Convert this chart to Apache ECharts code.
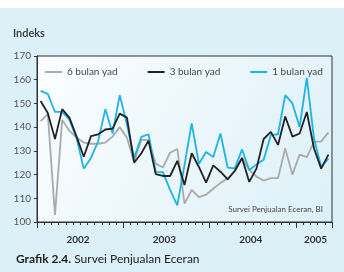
<!DOCTYPE html>
<html>
<head>
<meta charset="utf-8">
<script src="https://cdn.jsdelivr.net/npm/echarts@6/dist/echarts.min.js"></script>
<style>
html,body{margin:0;padding:0;background:#fff;}
#chart{width:344px;height:272px;}
</style>
</head>
<body>
<div id="chart"></div>
<script>
// bulan Jan 2002 - Mei 2005
var months = [];
for (var y = 2002; y <= 2005; y++) {
    for (var m = 1; m <= 12; m++) {
        if (y == 2005 && m > 5) break;
        months.push(y + '-' + m);
    }
}
var yearLabelIdx = {5: '2002', 17: '2003', 29: '2004', 38: '2005'};
var yTicks = [100, 110, 120, 130, 140, 150, 160, 170];

var enam_bulan = [142.5, 145.5, 103, 143, 138.5, 135.5, 133.5, 133, 133, 133.5,
    136, 140, 135.5, 125.3, 134.7, 134.5, 124.6, 123, 129.2, 130.8,
    107.8, 113.5, 110.5, 111.5, 114, 116.5, 118.4, 121.5, 127, 122,
    119.2, 117.4, 118.5, 118.5, 131, 120, 128.4, 127.4, 133.8, 134, 137.7];
var tiga_bulan = [151, 146, 135, 147.6, 144, 136, 127.5, 136.2, 137, 139,
    139.4, 145.7, 144, 125, 129, 134.3, 120.2, 119.4, 119.4, 125.8,
    115.6, 129, 123.2, 116.6, 123.9, 121.2, 118, 121.6, 127, 116.9,
    122.5, 135, 138, 132.5, 144.5, 136, 137.3, 146.4, 131, 122.5, 128.4];
var satu_bulan = [155.3, 154, 146.4, 146.4, 143.2, 135.3, 122.5, 127, 134, 147.6,
    137.3, 153.5, 141.2, 127, 135.9, 137, 121.1, 121, 113.5, 107,
    124, 141.6, 124.6, 129.5, 127.4, 137.3, 122.9, 122.6, 130.6, 121.9,
    124.3, 126.3, 136.6, 137, 153.5, 150, 140.1, 160.8, 135.2, 123.2, 126.7];

var chartDom = document.getElementById('chart');
var myChart = echarts.init(chartDom);
var option;
var font = 'Lato';

option = {
    backgroundColor: '#dcf0f7',
    animation: false,
    textStyle: {fontFamily: font},
    graphic: [
        {type: 'rect', left: 0, top: 0, shape: {width: 344, height: 8}, style: {fill: '#ffffff'}},
        {type: 'text', left: 13, top: 28, style: {text: 'Indeks', fontSize: 11, fontWeight: 600, fill: '#333', fontFamily: font}},
        {type: 'text', right: 21, top: 205, style: {text: 'Survei Penjualan Eceran, BI', fontSize: 8, fill: '#444', fontFamily: font}},
        {type: 'text', left: 16, top: 253, style: {
            rich: {
                b: {fontSize: 12, fontWeight: 'bold', fill: '#222', fontFamily: font},
                n: {fontSize: 12, fill: '#222', fontFamily: font}
            },
            text: '{b|Grafik 2.4.}{n| Survei Penjualan Eceran}'
        }}
    ],
    grid: {
        left: 37, right: 12, top: 56, bottom: 50,
        show: true,
        borderColor: '#333',
        borderWidth: 1,
        backgroundColor: {
            type: 'linear', x: 0, y: 0, x2: 1, y2: 1,
            colorStops: [{offset: 0, color: '#fbfeff'}, {offset: 1, color: '#dcf0f8'}]
        }
    },
    legend: {
        data: ['6 bulan yad', '3 bulan yad', '1 bulan yad'],
        left: 40, top: 62,
        icon: 'rect',
        itemGap: 30, itemWidth: 17, itemHeight: 2,
        textStyle: {fontSize: 10, color: '#444', fontFamily: font}
    },
    xAxis: [
        {
            type: 'category',
            data: months,
            boundaryGap: true,
            axisLine: {lineStyle: {color: '#333', width: 1}},
            axisTick: {show: true, interval: 0, length: 3, lineStyle: {color: '#333'}},
            axisLabel: {
                interval: function (i) { return yearLabelIdx[i] !== undefined; },
                formatter: function (v, i) { return yearLabelIdx[i] || ''; },
                margin: 13, fontSize: 10, fontWeight: 'bold', color: '#333',
                padding: [0, 0, 0, 3]
            }
        },
        {
            type: 'value', min: 0, max: 41, interval: 12,
            position: 'bottom',
            axisLine: {show: false},
            axisTick: {show: true, length: 6, lineStyle: {color: '#333'}},
            axisLabel: {show: false},
            splitLine: {show: false}
        }
    ],
    yAxis: {
        type: 'value', min: 100, max: 170, interval: 10,
        axisLine: {show: true, lineStyle: {color: '#333'}},
        axisTick: {show: true, length: 3, lineStyle: {color: '#333'}},
        axisLabel: {fontSize: 10, color: '#555', margin: 6,
            formatter: function (v) { return yTicks.indexOf(v) >= 0 ? v : ''; }},
        splitLine: {show: false}
    },
    series: [
        {name: '6 bulan yad', type: 'line', data: enam_bulan, showSymbol: false, symbol: 'none',
            lineStyle: {color: '#aaaaaa', width: 1.8}, itemStyle: {color: '#aaaaaa'}},
        {name: '1 bulan yad', type: 'line', data: satu_bulan, showSymbol: false, symbol: 'none',
            lineStyle: {color: '#1db4e4', width: 1.8}, itemStyle: {color: '#1db4e4'}},
        {name: '3 bulan yad', type: 'line', data: tiga_bulan, showSymbol: false, symbol: 'none',
            lineStyle: {color: '#222222', width: 1.8}, itemStyle: {color: '#222222'}}
    ]
};
option && myChart.setOption(option);
</script>
</body>
</html>
